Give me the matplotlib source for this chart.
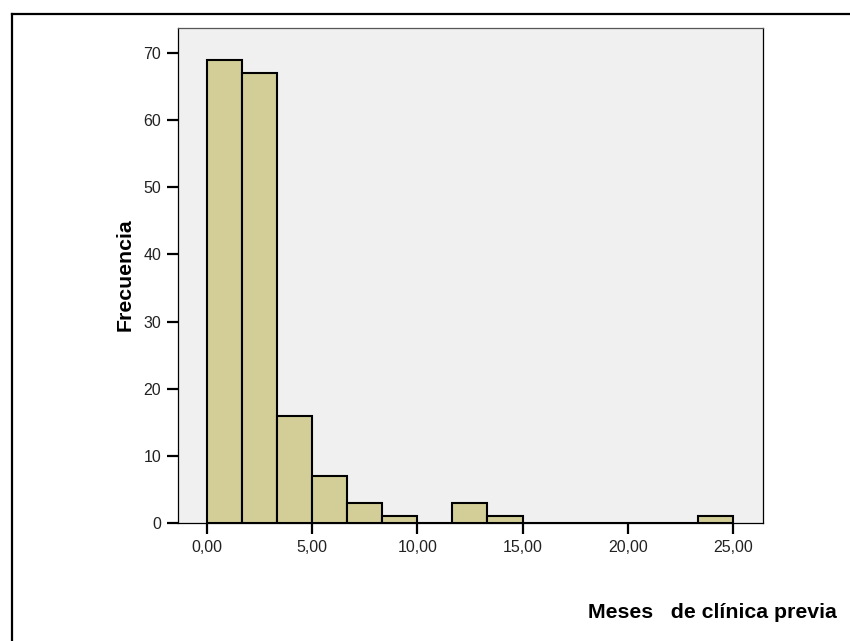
import matplotlib.pyplot as plt
import numpy as np
from matplotlib.lines import Line2D

plt.rcParams["font.family"] = ["Liberation Sans", "DejaVu Sans"]

# histogram of months of prior clinical history, 15 bins over 0..25
bin_edges = np.linspace(0, 25, 16)
counts = [69, 67, 16, 7, 3, 1, 0, 3, 1, 0, 0, 0, 0, 0, 1]
x_ticks = [0, 5, 10, 15, 20, 25]
x_tick_labels = ["0,00", "5,00", "10,00", "15,00", "20,00", "25,00"]
y_ticks = [0, 10, 20, 30, 40, 50, 60, 70]

W, H = 850, 641
fig = plt.figure(figsize=(W / 100, H / 100), dpi=100)
fig.patch.set_facecolor("white")

# outer SPSS-style frame (only top and left are visible)
fig.add_artist(Line2D([12 / W, 1.0], [1 - 14 / H, 1 - 14 / H], color="black", lw=1.6))
fig.add_artist(Line2D([12 / W, 12 / W], [0.0, 1 - 14 / H], color="black", lw=1.6))

left, right, top, bottom = 178, 763, 28, 523
ax = fig.add_axes([left / W, 1 - bottom / H, (right - left) / W, (bottom - top) / H])
ax.set_facecolor("#F0F0F0")

widths = np.diff(bin_edges)
ax.bar(bin_edges[:-1], counts, width=widths, align="edge",
       color="#D3CE98", edgecolor="black", linewidth=1.5, zorder=3)

ax.set_xlim(-1.39, 26.44)
ax.set_ylim(0, 73.7)

ax.set_xticks(x_ticks)
ax.set_xticklabels(x_tick_labels)
ax.set_yticks(y_ticks)
ax.tick_params(axis="both", direction="out", length=8, width=1.6,
               labelsize=11.5, color="black", labelcolor="#222222", pad=4)

for side in ["left", "bottom", "right", "top"]:
    ax.spines[side].set_linewidth(0.9)
    ax.spines[side].set_color("black")
ax.spines["top"].set_color("#555555")

fig.text(125 / W, 1 - 275 / H, "Frecuencia", rotation=90, fontsize=15.3,
         fontweight="bold", ha="center", va="center")
fig.text(837 / W, 1 - 618 / H, "Meses   de clínica previa", fontsize=15.3,
         fontweight="bold", ha="right", va="baseline")

fig.savefig("out.png", dpi=100)
